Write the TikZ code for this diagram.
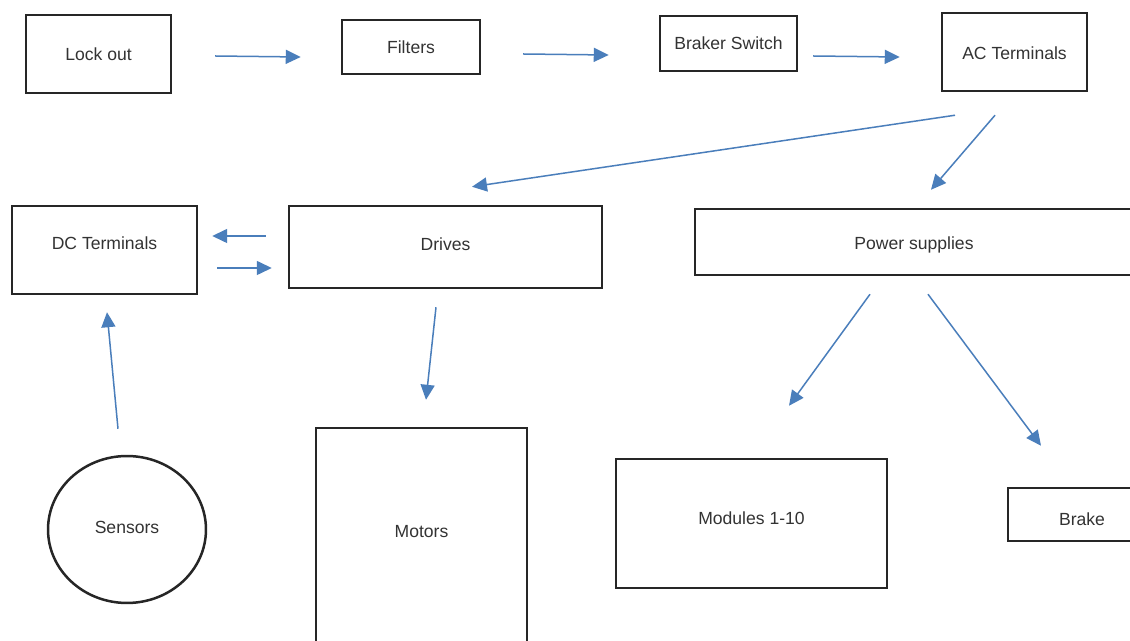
\documentclass[tikz,border=0pt]{standalone}
\usepackage{fontspec}
\setmainfont{Liberation Sans}
\usetikzlibrary{calc,shapes.geometric,arrows.meta}
\definecolor{flowblue}{RGB}{74,126,187}

\begin{document}
\begin{tikzpicture}[x=0.02cm, y=-0.02cm,
	box/.style={draw=black!85, line width=0.5mm, inner sep=0pt, text=black!80, font=\fontsize{10}{12}\selectfont},
	flow/.style={draw=flowblue, line width=0.3mm, -{Triangle[length=3mm, width=2.8mm]}}]
			%%%%% START %%%%%
			
			\fill[white] (0, 0) rectangle (1130, 641);
			\useasboundingbox (0, 0) rectangle (1130, 641);
			
			% top row
			\node[box, minimum width=2.9cm, minimum height=1.56cm] (lock) at (98.5, 54) {Lock out};
			\node[box, minimum width=2.76cm, minimum height=1.08cm] (filters) at (411, 47) {Filters};
			\node[box, minimum width=2.74cm, minimum height=1.1cm] (braker) at (728.5, 43.5) {Braker Switch};
			\node[box, minimum width=2.9cm, minimum height=1.56cm, text height=0.3cm] (acterm) at (1014.5, 52) {AC Terminals};
			
			% middle row
			\node[box, minimum width=3.7cm, minimum height=1.76cm, text depth=0.28cm] (dcterm) at (104.5, 250) {DC Terminals};
			\node[box, minimum width=6.26cm, minimum height=1.64cm, text depth=0.12cm] (drives) at (445.5, 247) {Drives};
			\node[box, minimum width=8.76cm, minimum height=1.32cm, text height=0.37cm] (power) at (914, 242) {Power supplies};
			
			% bottom row
			\node[box, ellipse, minimum width=3.16cm, minimum height=2.94cm, text depth=0.1cm] (sensors) at (127, 529.5) {Sensors};
			\node[box, minimum width=4.22cm, minimum height=4.34cm, text depth=0.22cm] (motors) at (421.5, 536.5) {Motors};
			\node[box, minimum width=5.42cm, minimum height=2.58cm, text depth=0.22cm] (modules) at (751.5, 523.5) {Modules 1-10};
			\node[box, minimum width=2.96cm, minimum height=1.06cm, text height=0.45cm] (brake) at (1082, 514.5) {Brake};
			
			% arrows
			\draw[flow] ($(lock.east)+(43, 2)$) -- ($(filters.west)+(-40, 10)$);
			\draw[flow] ($(filters.east)+(42, 7)$) -- ($(braker.west)+(-50, 11.5)$);
			\draw[flow] ($(braker.east)+(15, 12.5)$) -- ($(acterm.west)+(-41, 5)$);
			
			\draw[flow] ($(acterm.south)+(-59.5, 23)$) -- ($(drives.north)+(26.5, -18)$);
			\draw[flow] ($(acterm.south)+(-19.5, 23)$) -- ($(power.north)+(17, -18)$);
			
			\draw[flow] ($(drives.west)+(-22, -11)$) -- ($(dcterm.east)+(14, -14)$);
			\draw[flow] ($(dcterm.east)+(19, 18)$) -- ($(drives.west)+(-16, 21)$);
			
			\draw[flow] ($(drives.south)+(-9.5, 18)$) -- ($(motors.north)+(4.5, -27)$);
			\draw[flow] ($(sensors.north)+(-9, -26)$) -- ($(dcterm.south)+(2.5, 17)$);
			
			\draw[flow] ($(power.south)+(-44, 18)$) -- ($(modules.north)+(37.5, -52)$);
			\draw[flow] ($(power.south)+(14, 18)$) -- ($(brake.north)+(-41, -41)$);
			
			%%%%% END %%%%%
\end{tikzpicture}
\end{document}
